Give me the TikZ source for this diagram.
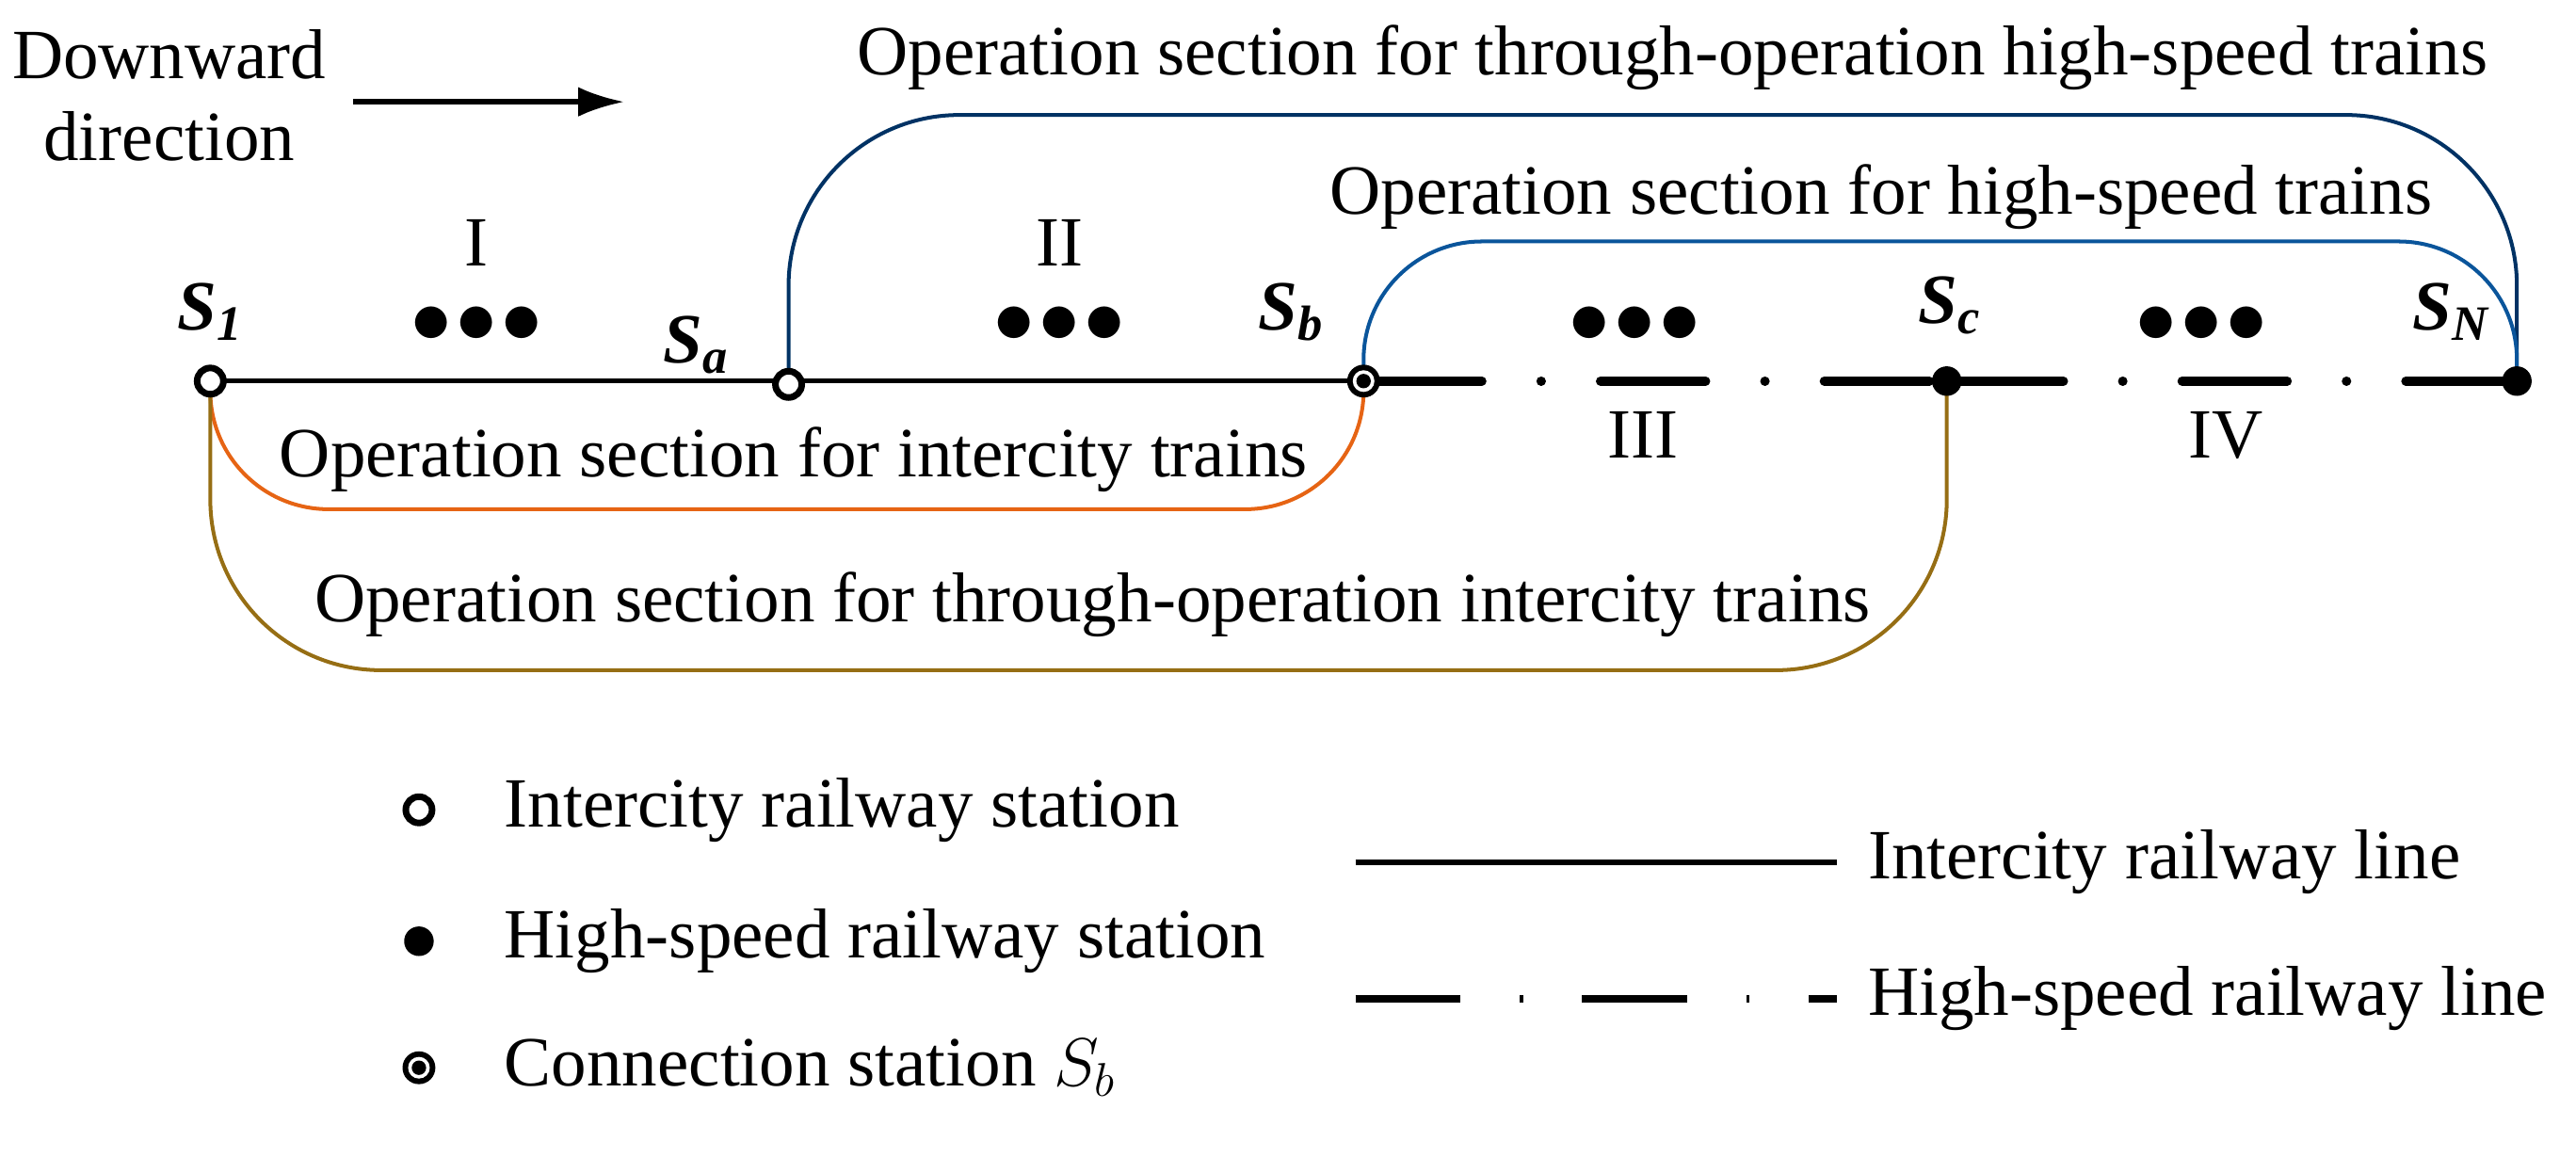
\documentclass[tikz,border=0pt]{standalone}
\usepackage{fontspec}
\usetikzlibrary{arrows.meta}
\setmainfont{Liberation Serif}
\begin{document}
\begin{tikzpicture}[x=0.5pt,y=-0.5pt,
  every node/.style={font=\fontsize{21.5}{25}\selectfont},
  lab/.style={font=\fontsize{21.5}{25}\selectfont\bfseries\itshape},
  ic/.style={circle,draw,line width=2pt,fill=white,inner sep=0pt,minimum size=8pt},
  hs/.style={circle,fill=black,inner sep=0pt,minimum size=9pt},
  cs/.style={circle,fill=black,inner sep=0pt,minimum size=10pt,path picture={\fill[white] (path picture bounding box.center) circle (3.3pt);\fill[black] (path picture bounding box.center) circle (2.2pt);}},
  iline/.style={line width=1.5pt},
  hline/.style={line width=2.8pt,line cap=round,dash pattern=on 32pt off 18pt on 0.1pt off 18pt},
  sec/.style={line width=1.15pt},
  dots/.style={font=\fontsize{24}{24}\selectfont\bfseries}]
\useasboundingbox (0,0) rectangle (1568,704);
% stations coordinates
\coordinate (p1) at (128,232);
\coordinate (pa) at (480,234);
\coordinate (pb) at (830,232);
\coordinate (pc) at (1185,232);
\coordinate (pN) at (1532,232);
% lines
\draw[iline] (p1) -- (pb);
\draw[hline] (838,232) -- (pc);
\draw[hline] (1192,232) -- (pN);
% sections
\draw[sec,rounded corners=52pt,draw={rgb,255:red,0;green,50;blue,100}] (pa) -- (480,70) -- (1532,70) -- (pN);
\draw[sec,rounded corners=36pt,draw={rgb,255:red,10;green,85;blue,155}] (pb) -- (830,147) -- (1532,147) -- (pN);
\draw[sec,rounded corners=36pt,draw={rgb,255:red,230;green,100;blue,20}] (p1) -- (128,310) -- (830,310) -- (pb);
\draw[sec,rounded corners=52pt,draw={rgb,255:red,150;green,110;blue,20}] (p1) -- (128,408) -- (1185,408) -- (pc);
% station nodes
\node[ic] (S1) at (p1) {};
\node[ic] (Sa) at (pa) {};
\node[cs] (Sb) at (pb) {};
\node[hs] (Sc) at (pc) {};
\node[hs] (SN) at (pN) {};
% labels
\node[lab] (l1) at (128,190) {S\textsubscript{1}};
\node[lab] (la) at (424,210) {S\textsubscript{a}};
\node[lab] (lb) at (786,190) {S\textsubscript{b}};
\node[lab] (lc) at (1187,186) {S\textsubscript{c}};
\node[lab] (lN) at (1492,190) {S\textsubscript{N}};
\node (r1) at (290,148) {I};
\node (r2) at (645,148) {II};
\node (r3) at (1000,265) {III};
\node (r4) at (1355,265) {IV};
\node[dots] (d1) at (290,198) {$\bullet\!\bullet\!\bullet$};
\node[dots] (d2) at (645,198) {$\bullet\!\bullet\!\bullet$};
\node[dots] (d3) at (995,198) {$\bullet\!\bullet\!\bullet$};
\node[dots] (d4) at (1340,198) {$\bullet\!\bullet\!\bullet$};
\node (t1) at (1018,35) {Operation section for through-operation high-speed trains};
\node (t2) at (1145,120) {Operation section for high-speed trains};
\node (t3) at (483,280) {Operation section for intercity trains};
\node (t4) at (665,368) {Operation section for through-operation intercity trains};
\node[align=center] (dw) at (103,58) {Downward\\direction};
\coordinate (a1) at (215,62);
\coordinate (a2) at (380,62);
\draw[line width=1.6pt,-{Latex[length=14pt,width=9pt]}] (a1) -- (a2);
% legend
\node[ic] (g1) at (255,493) {};
\node[anchor=west] (gt1) at (300,493) {Intercity railway station};
\node[hs] (g2) at (255,573) {};
\node[anchor=west] (gt2) at (300,573) {High-speed railway station};
\node[cs] (g3) at (255,650) {};
\node[anchor=west] (gt3) at (300,650) {Connection station $S_b$};
\coordinate (m1) at (825,525); \coordinate (m2) at (1118,525);
\draw[iline] (m1) -- (m2);
\node[anchor=west] (gt4) at (1130,525) {Intercity railway line};
\coordinate (n1) at (825,608); \coordinate (n2) at (1118,608);
\draw[line width=2.4pt,dash pattern=on 32pt off 18pt on 1pt off 18pt] (n1) -- (n2);
\node[anchor=west] (gt5) at (1130,608) {High-speed railway line};
\end{tikzpicture}
\end{document}
